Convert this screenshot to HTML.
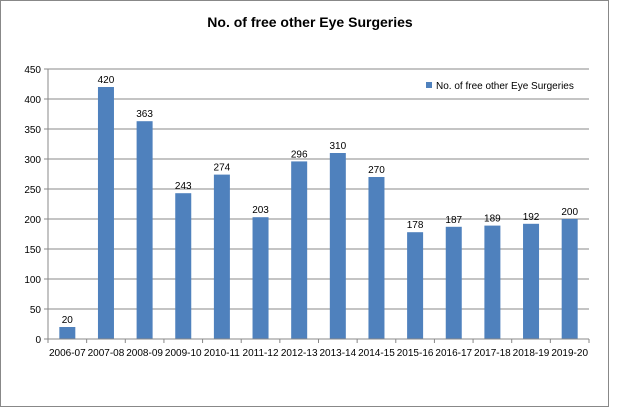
<!DOCTYPE html>
<html><head><meta charset="utf-8"><style>
body{margin:0;background:#fff;}
svg{display:block;font-family:"Liberation Sans",sans-serif;}
</style></head><body>
<svg id="chart" width="621" height="409">
<rect x="0.5" y="0.5" width="608" height="406" fill="#fff" stroke="#888"/>
<text x="310" y="27" text-anchor="middle" font-size="14" font-weight="bold" fill="#000">No. of free other Eye Surgeries</text>
<g id="grid"></g><g id="bars"></g><g id="axes"></g>
<rect x="426" y="82" width="6" height="6" fill="#4f81bd"/>
<text x="436" y="89" font-size="10" fill="#000">No. of free other Eye Surgeries</text>
</svg>
<script>
const categories=["2006-07","2007-08","2008-09","2009-10","2010-11","2011-12","2012-13","2013-14","2014-15","2015-16","2016-17","2017-18","2018-19","2019-20"];
const values=[20,420,363,243,274,203,296,310,270,178,187,189,192,200];
const yTicks=[0,50,100,150,200,250,300,350,400,450];
const NS="http://www.w3.org/2000/svg";
const x0=48,x1=589,y0=339,y1=69,yMax=450;
const bw=(x1-x0)/categories.length;
const y=v=>y0-(v/yMax)*(y0-y1);
const xc=i=>x0+bw*(i+0.5);
function mk(t,a,p){const e=document.createElementNS(NS,t);for(const k in a)e.setAttribute(k,a[k]);p.appendChild(e);return e;}
const grid=document.getElementById('grid'),bars=document.getElementById('bars'),axes=document.getElementById('axes');
yTicks.forEach(t=>{
 if(t>0){const l=mk('line',{x1:x0,x2:x1,y1:y(t),y2:y(t),stroke:'#888','stroke-width':1},grid);
 
 }
 const tk=mk('line',{x1:x0-4,x2:x0,y1:y(t),y2:y(t),stroke:'#888'},axes);
 
 
 const tx=mk('text',{x:x0-7,y:y(t)+4,'text-anchor':'end','font-size':10,fill:'#000'},axes);
 tx.textContent=t;
 
 
});
values.forEach((v,i)=>{
 const r=mk('rect',{x:xc(i)-8,y:y(v),width:16,height:y0-y(v),fill:'#4f81bd'},bars);
 
 
 const t=mk('text',{x:xc(i),y:y(v)-4,'text-anchor':'middle','font-size':10,fill:'#000'},bars);
 t.textContent=v;
 
 
 const c=mk('text',{x:xc(i),y:y0+17,'text-anchor':'middle','font-size':10,fill:'#000'},axes);
 c.textContent=categories[i];
 
 
});
for(let i=0;i<=categories.length;i++){
 const tk=mk('line',{x1:x0+bw*i,x2:x0+bw*i,y1:y0,y2:y0+4,stroke:'#888'},axes);
 
 
}
const ya=mk('line',{x1:x0,x2:x0,y1:y1,y2:y0,stroke:'#888'},axes);


const xa=mk('line',{x1:x0,x2:x1,y1:y0,y2:y0,stroke:'#888'},axes);


</script>
</body></html>
